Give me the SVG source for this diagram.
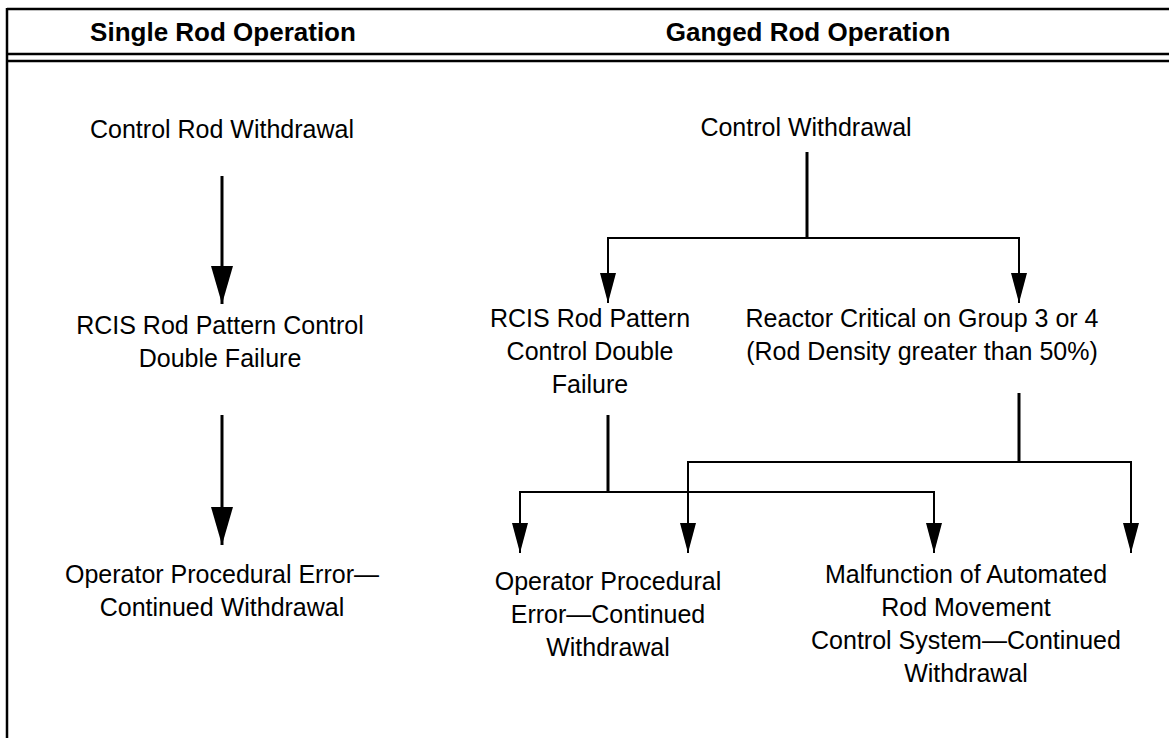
<svg xmlns="http://www.w3.org/2000/svg" width="1169" height="738" viewBox="0 0 1169 738">
<style>
.frame{stroke:#000;stroke-width:2.5;fill:none}
.hdr{font-family:"Liberation Sans",Arial,sans-serif;font-weight:bold;font-size:26px;text-anchor:middle;fill:#000}
.lbl{font-family:"Liberation Sans",Arial,sans-serif;font-size:25px;text-anchor:middle;fill:#000}
.thick{stroke:#000;stroke-width:3;fill:none}
.thin{stroke:#000;stroke-width:2;fill:none}
</style>
<defs>
<marker id="big" markerUnits="userSpaceOnUse" markerWidth="38" markerHeight="22" refX="38" refY="11" orient="auto">
<path d="M0,0 L38,11 L0,22 z" fill="#000"/>
</marker>
<marker id="small" markerUnits="userSpaceOnUse" markerWidth="30" markerHeight="16" refX="30" refY="8" orient="auto-start-reverse">
<path d="M0,0 L30,8 L0,16 z" fill="#000"/>
</marker>
</defs>
<rect width="1169" height="738" fill="#fff"/>
<g id="frame">
<line class="frame" x1="7" y1="9" x2="1169" y2="9"/>
<line class="frame" x1="7" y1="8" x2="7" y2="738"/>
<line class="frame" x1="7" y1="54" x2="1169" y2="54"/>
<line class="frame" x1="7" y1="61" x2="1169" y2="61"/>
<text class="hdr" x="223" y="41">Single Rod Operation</text>
<text class="hdr" x="808" y="41">Ganged Rod Operation</text>
</g>
<g id="connectors">
<line class="thick" x1="222" y1="176" x2="222" y2="304" marker-end="url(#big)"/>
<line class="thick" x1="222" y1="415" x2="222" y2="545" marker-end="url(#big)"/>
<polyline class="thick" points="807,152 807,238"/>
<polyline class="thin" points="608,303 608,238 1019,238 1019,303" marker-start="url(#small)" marker-end="url(#small)"/>
<polyline class="thick" points="608,415 608,492"/>
<polyline class="thin" points="520,553 520,492 934,492 934,553" marker-start="url(#small)" marker-end="url(#small)"/>
<polyline class="thick" points="1019,393 1019,462"/>
<polyline class="thin" points="688,553 688,462 1131,462 1131,553" marker-start="url(#small)" marker-end="url(#small)"/>
</g>
<g id="n-s1"><text class="lbl" x="222" y="138">Control Rod Withdrawal</text></g>
<g id="n-s2"><text class="lbl" x="220" y="334">RCIS Rod Pattern Control</text><text class="lbl" x="220" y="367">Double Failure</text></g>
<g id="n-s3"><text class="lbl" x="222" y="583">Operator Procedural Error—</text><text class="lbl" x="222" y="616">Continued Withdrawal</text></g>
<g id="n-g1"><text class="lbl" x="806" y="136">Control Withdrawal</text></g>
<g id="n-g2"><text class="lbl" x="590" y="327">RCIS Rod Pattern</text><text class="lbl" x="590" y="360">Control Double</text><text class="lbl" x="590" y="393">Failure</text></g>
<g id="n-g3"><text class="lbl" x="922" y="327">Reactor Critical on Group 3 or 4</text><text class="lbl" x="922" y="360">(Rod Density greater than 50%)</text></g>
<g id="n-g4"><text class="lbl" x="608" y="590">Operator Procedural</text><text class="lbl" x="608" y="623">Error—Continued</text><text class="lbl" x="608" y="656">Withdrawal</text></g>
<g id="n-g5"><text class="lbl" x="966" y="583">Malfunction of Automated</text><text class="lbl" x="966" y="616">Rod Movement</text><text class="lbl" x="966" y="649">Control System—Continued</text><text class="lbl" x="966" y="682">Withdrawal</text></g>
</svg>
